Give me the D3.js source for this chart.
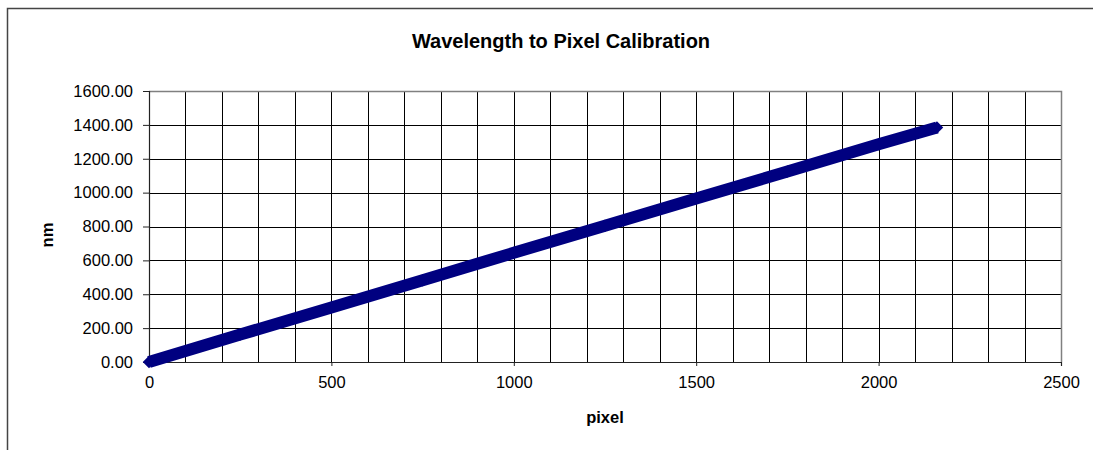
<!DOCTYPE html>
<html>
<head>
<meta charset="utf-8">
<script src="https://cdn.jsdelivr.net/npm/d3@7"></script>
<style>
  body { margin: 0; background: #fff; overflow: hidden; }
  svg { display: block; }
  text { font-family: "Liberation Sans", Arial, sans-serif; fill: #000; }
</style>
</head>
<body>
<div id="chart"></div>
<script>
// values
var pixels = [0, 250, 500, 750, 1000, 1250, 1500, 1750, 2000, 2160];
var wavelengths = [0, 162, 322, 483, 645, 805, 965, 1125, 1285, 1385];
var xTicks = [0, 500, 1000, 1500, 2000, 2500];
var yTicks = [0, 200, 400, 600, 800, 1000, 1200, 1400, 1600];
var xGrid = d3.range(0, 2501, 100);

var fullWidth = 1093, fullHeight = 450;
var margin = {top: 91, right: 32, bottom: 88, left: 149};
var width = fullWidth - margin.left - margin.right;   // 912
var height = fullHeight - margin.top - margin.bottom; // 271

var svg = d3.select('#chart').append('svg')
  .attr('width', fullWidth)
  .attr('height', fullHeight);

// outer chart frame (runs off the right and bottom)
svg.append('rect')
  .attr('x', 7.5).attr('y', 8.5)
  .attr('width', 1200).attr('height', 600)
  .attr('fill', 'none')
  .attr('stroke', '#444')
  .attr('stroke-width', 1.5);

svg.append('text')
  .attr('x', 561).attr('y', 48)
  .attr('text-anchor', 'middle')
  .style('font-size', '20px')
  .style('font-weight', 'bold')
  .text('Wavelength to Pixel Calibration');

var g = svg.append('g')
  .attr('transform', 'translate(' + margin.left + ',' + margin.top + ')');

var x = d3.scaleLinear().domain([0, 2500]).range([0, width]);
var y = d3.scaleLinear().domain([0, 1600]).range([height, 0]);

// grid
g.append('g').selectAll('line')
  .data(xGrid.slice(1, -1))
  .enter().append('line')
    .attr('x1', function(d) { return Math.round(x(d)) + 0.5; })
    .attr('x2', function(d) { return Math.round(x(d)) + 0.5; })
    .attr('y1', 0).attr('y2', height)
    .attr('stroke', '#000').attr('stroke-width', 1);

g.append('g').selectAll('line')
  .data(yTicks.slice(1, -1))
  .enter().append('line')
    .attr('y1', function(d) { return Math.round(y(d)) + 0.5; })
    .attr('y2', function(d) { return Math.round(y(d)) + 0.5; })
    .attr('x1', 0).attr('x2', width)
    .attr('stroke', '#000').attr('stroke-width', 1);

// plot area border top/right
g.append('path')
  .attr('d', 'M0,0.5H' + (width + 0.5) + 'V' + height)
  .attr('fill', 'none')
  .attr('stroke', '#808080')
  .attr('stroke-width', 1.5);

// axes
var xAxis = d3.axisBottom(x).tickValues(xTicks).tickSize(4).tickPadding(10).tickFormat(d3.format('d'));
var yAxis = d3.axisLeft(y).tickValues(yTicks).tickSize(6).tickPadding(10).tickFormat(d3.format('.2f'));

var xg = g.append('g')
  .attr('transform', 'translate(0,' + height + ')')
  .call(xAxis);
var yg = g.append('g').call(yAxis);

[xg, yg].forEach(function(a) {
  a.select('.domain').attr('stroke', '#222').attr('stroke-width', 1.2);
  a.selectAll('.tick line').attr('stroke', '#222');
  a.selectAll('.tick text')
    .style('font-size', '16.5px')
    .style('font-family', '"Liberation Sans", Arial, sans-serif')
    .attr('fill', '#000');
});

// axis titles
svg.append('text')
  .attr('x', margin.left + width / 2).attr('y', 423)
  .attr('text-anchor', 'middle')
  .style('font-size', '16.5px')
  .style('font-weight', 'bold')
  .text('pixel');

svg.append('text')
  .attr('transform', 'translate(53,235)rotate(-90)')
  .attr('text-anchor', 'middle')
  .style('font-size', '16.5px')
  .style('font-weight', 'bold')
  .text('nm');

// series
var pts = pixels.map(function(p, i) { return [p, wavelengths[i]]; });

var line = d3.line()
  .x(function(d) { return x(d[0]); })
  .y(function(d) { return y(d[1]); });

g.append('path')
  .datum(pts)
  .attr('d', line)
  .attr('fill', 'none')
  .attr('stroke', '#000080')
  .attr('stroke-width', 12);

var diamond = d3.symbol().type(d3.symbolDiamond2).size(100);
g.append('g').selectAll('path')
  .data(pts)
  .enter().append('path')
    .attr('d', diamond)
    .attr('transform', function(d) { return 'translate(' + x(d[0]) + ',' + y(d[1]) + ')'; })
    .attr('fill', '#000080');
</script>
</body>
</html>
